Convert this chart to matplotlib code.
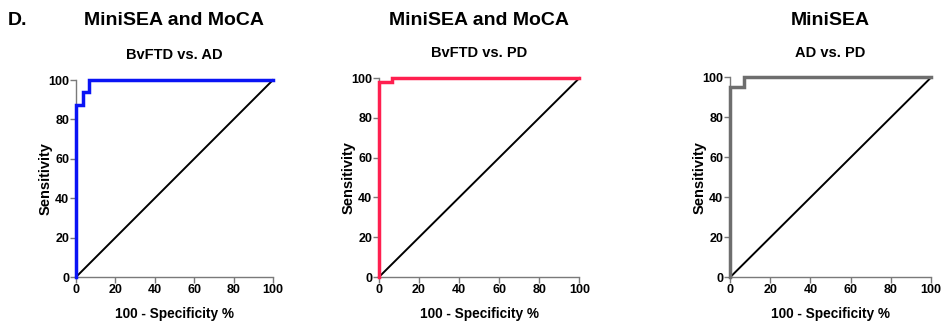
import numpy as np
import matplotlib
matplotlib.use('Agg')
import matplotlib.pyplot as plt

plt.rcParams['font.family'] = ['Liberation Sans', 'DejaVu Sans']

#ROC curves (100 - specificity %, sensitivity %)
titles = ['MiniSEA and MoCA', 'MiniSEA and MoCA', 'MiniSEA']
subtitles = ['BvFTD vs. AD', 'BvFTD vs. PD', 'AD vs. PD']
roc_x1 = [0, 0, 3.3, 3.3, 6.7, 6.7, 100]
roc_y1 = [0, 87.5, 87.5, 93.75, 93.75, 100, 100]
roc_x2 = [0, 0, 6.3, 6.3, 100]
roc_y2 = [0, 97.9, 97.9, 100, 100]
roc_x3 = [0, 0, 7.0, 7.0, 100]
roc_y3 = [0, 95.0, 95.0, 100, 100]
colors = ['#0a14f5', '#ff1f4f', '#6e6e6e']
ticks = [0, 20, 40, 60, 80, 100]

curves = [(roc_x1, roc_y1), (roc_x2, roc_y2), (roc_x3, roc_y3)]
#axes boxes in figure fractions
boxes = [[0.0807, 0.145, 0.209, 0.608],
         [0.4023, 0.145, 0.2127, 0.614],
         [0.775, 0.144, 0.2134, 0.617]]

fig = plt.figure(figsize=(9.42, 3.24), dpi=100)

for i in range(3):
    ax = fig.add_axes(boxes[i])
    x, y = curves[i]
    ax.plot([0, 100], [0, 100], color='black', lw=1.4, clip_on=False, zorder=3)
    ax.plot(x, y, color=colors[i], lw=2.5, clip_on=False, zorder=4,
            solid_joinstyle='miter')
    ax.set_xlim(0, 100)
    ax.set_ylim(0, 100)
    ax.set_xticks(ticks)
    ax.set_yticks(ticks)
    for s in ['top', 'right']:
        ax.spines[s].set_visible(False)
    for s in ['left', 'bottom']:
        ax.spines[s].set_color('#7a7a7a')
        ax.spines[s].set_linewidth(1.0)
    ax.tick_params(direction='out', length=4, width=1.0, color='#7a7a7a',
                   labelsize=9, pad=1)
    for lab in ax.get_xticklabels() + ax.get_yticklabels():
        lab.set_fontweight('bold')
    ax.set_xlabel('100 - Specificity %', fontsize=9.8, fontweight='bold', labelpad=8)
    ax.set_ylabel('Sensitivity', fontsize=10.5, fontweight='bold', labelpad=-3)
    ax.set_title(subtitles[i], fontsize=10.5, fontweight='bold', pad=15)
    cx = boxes[i][0] + boxes[i][2] / 2
    fig.text(cx, 0.938, titles[i], fontsize=14, fontweight='bold',
             ha='center', va='center')

fig.text(0.008, 0.938, 'D.', fontsize=14, fontweight='bold', ha='left', va='center')

plt.savefig('out.png', dpi=100)
